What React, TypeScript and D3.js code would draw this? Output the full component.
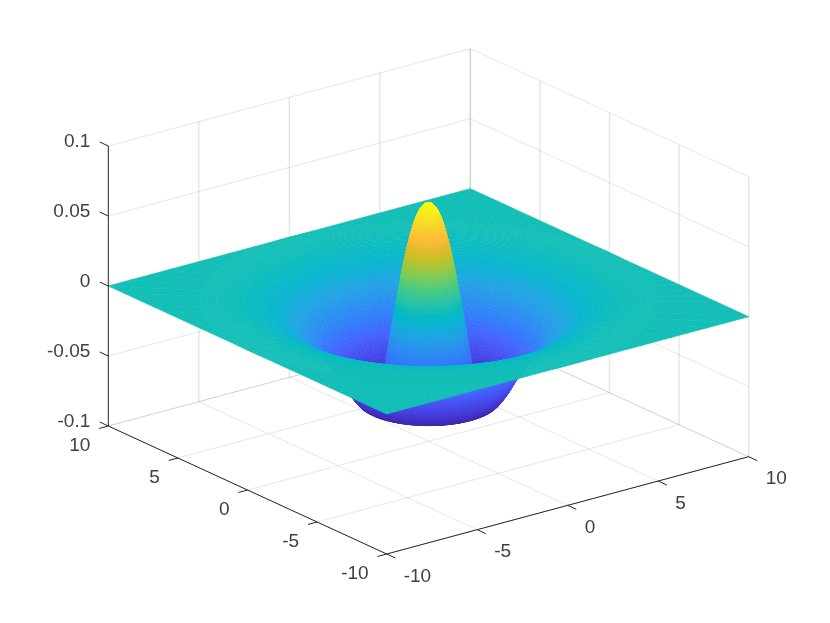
import React from "react";
import * as d3 from "d3";

const uTicks = [-10, -5, 0, 5, 10];
const vTicks = [-10, -5, 0, 5, 10];
const zTicks = [-0.1, -0.05, 0, 0.05, 0.1];
const zTickLabels = ["-0.1", "-0.05", "0", "0.05", "0.1"];

// radial profile, one value every 0.5 units of radius
const profileStep = 0.5;
const profileZ = [
  0.0703, 0.0618, 0.034, -0.0076, -0.052, -0.0675, -0.0715, -0.063, -0.05, -0.039,
  -0.029, -0.021, -0.015, -0.01, -0.0065, -0.004, -0.002, -0.0009, -0.0003, 0, 0,
];

// parula colormap: position in the colour range, then r, g, b
const parulaPos = [0, 4, 8, 12, 16, 20, 24, 28, 31, 34, 37, 41, 44, 47, 50, 53, 56, 59, 63];
const parula: [number, number, number][] = [
  [0.2422, 0.1504, 0.6603], [0.2706, 0.2147, 0.8364], [0.2813, 0.3006, 0.9414], [0.2699, 0.3892, 0.9906],
  [0.1963, 0.4847, 0.9892], [0.1687, 0.5703, 0.9359], [0.1248, 0.6459, 0.8883], [0.0297, 0.7082, 0.8163],
  [0.0433, 0.7411, 0.7394], [0.1717, 0.767, 0.6554], [0.247, 0.7918, 0.5567], [0.4456, 0.8024, 0.3909],
  [0.6174, 0.7876, 0.2612], [0.7738, 0.7598, 0.1646], [0.9035, 0.733, 0.1774], [0.9956, 0.7434, 0.2371],
  [0.9739, 0.8139, 0.1816], [0.9598, 0.8926, 0.1483], [0.9769, 0.9839, 0.0805],
];
const parulaCss = parula.map((c) => d3.rgb(c[0] * 255, c[1] * 255, c[2] * 255).formatRgb());
const colorScale = d3
  .scaleLinear<string>()
  .domain(parulaPos.map((p) => p / 63))
  .range(parulaCss)
  .interpolate(d3.interpolateRgb)
  .clamp(true);
const cNorm = d3.scaleLinear().domain([-0.0715, 0.0703]).range([0, 1]);

const uX = d3.scaleLinear().domain([-10, 10]).range([0, 362]);
const uY = d3.scaleLinear().domain([-10, 10]).range([0, -97.3]);
const vX = d3.scaleLinear().domain([-10, 10]).range([0, -278.4]);
const vY = d3.scaleLinear().domain([-10, 10]).range([0, -128]);
const zY = d3.scaleLinear().domain([-0.1, 0.1]).range([0, -280]);
const X0 = 386.7;
const Y0 = 554;
const px = (u: number, v: number) => X0 + uX(u) + vX(v);
const py = (u: number, v: number, z: number) => Y0 + uY(u) + vY(v) + zY(z);

function heightAt(r: number): number {
  const t = r / profileStep;
  const i = Math.floor(t);
  if (i >= profileZ.length - 1) return profileZ[profileZ.length - 1];
  const at = (k: number) => profileZ[Math.min(Math.abs(k), profileZ.length - 1)];
  const f = t - i;
  const p0 = at(i - 1), p1 = at(i), p2 = at(i + 1), p3 = at(i + 2);
  return 0.5 * (2 * p1 + (p2 - p0) * f + (2 * p0 - 5 * p1 + 4 * p2 - p3) * f * f + (3 * p1 - p0 - 3 * p2 + p3) * f * f * f);
}

const ringRadii = [...d3.range(0, 3, 0.025), ...d3.range(3, 10.001, 0.1)];
const SECTORS = 96;

function buildCells() {
  const cells: { d: string; c: string; depth: number }[] = [];
  const point = (ring: number, sector: number): [number, number] => {
    const a = (sector / SECTORS) * 2 * Math.PI;
    const c = Math.cos(a), s = Math.sin(a);
    const r = ring < ringRadii.length ? ringRadii[ring] : 10 / Math.max(Math.abs(c), Math.abs(s));
    return [r * c, r * s];
  };
  for (let ring = 0; ring < ringRadii.length; ring++) {
    for (let sec = 0; sec < SECTORS; sec++) {
      const quad = [point(ring, sec), point(ring + 1, sec), point(ring + 1, sec + 1), point(ring, sec + 1)];
      const pts = quad.map(([u, v]) => [u, v, heightAt(Math.hypot(u, v))]);
      const mean = d3.mean(pts, (p) => p[2]) as number;
      const d = "M" + pts.map((p) => `${px(p[0], p[1]).toFixed(2)},${py(p[0], p[1], p[2]).toFixed(2)}`).join("L") + "Z";
      const depth = (d3.mean(pts, (p) => p[0]) as number) * 13.92 + (d3.mean(pts, (p) => p[1]) as number) * 18.05;
      cells.push({ d, c: colorScale(cNorm(mean)), depth });
    }
  }
  cells.sort((a, b) => b.depth - a.depth);
  return cells;
}

const GRID = "rgba(38,38,38,0.11)";
const AXIS = "#262626";
const TEXT = "#404040";
const FONT = "'Liberation Sans', Arial, sans-serif";

function Seg({ a, b, stroke = GRID, w = 1 }: { a: [number, number]; b: [number, number]; stroke?: string; w?: number }) {
  return <line x1={a[0]} y1={a[1]} x2={b[0]} y2={b[1]} stroke={stroke} strokeWidth={w} />;
}

export default function App() {
  const cells = React.useMemo(buildCells, []);
  const zMin = -0.1, zMax = 0.1;
  const P = (u: number, v: number, z: number): [number, number] => [px(u, v), py(u, v, z)];
  const tickV: [number, number] = [-8.6, -4];
  const tickNegU: [number, number] = [-9.2, 2.5];
  const tickNegV: [number, number] = [8.6, 4];
  const add = (a: [number, number], d: [number, number]): [number, number] => [a[0] + d[0], a[1] + d[1]];
  return (
    <svg width={830} height={623} style={{ position: "absolute", left: 0, top: 0, display: "block", background: "#fff", filter: "blur(0.4px)" }}>
      <g fill="none">
        {uTicks.map((u) => <Seg key={"fu" + u} a={P(u, -10, zMin)} b={P(u, 10, zMin)} />)}
        {vTicks.map((v) => <Seg key={"fv" + v} a={P(-10, v, zMin)} b={P(10, v, zMin)} />)}
        {uTicks.map((u) => <Seg key={"wu" + u} a={P(u, 10, zMin)} b={P(u, 10, zMax)} w={u === -10 ? 0 : 1.5} />)}
        {zTicks.map((z) => <Seg key={"wz" + z} a={P(-10, 10, z)} b={P(10, 10, z)} />)}
        {vTicks.map((v) => <Seg key={"xv" + v} a={P(10, v, zMin)} b={P(10, v, zMax)} w={1.5} />)}
        {zTicks.map((z) => <Seg key={"xz" + z} a={P(10, -10, z)} b={P(10, 10, z)} />)}
      </g>
      <g strokeWidth={0.6}>
        {cells.map((c, i) => <path key={i} d={c.d} fill={c.c} stroke={c.c} />)}
      </g>
      <g fill="none">
        <Seg a={P(-10, 10, zMin)} b={P(-10, 10, zMax)} stroke={AXIS} />
        <Seg a={P(-10, 10, zMin)} b={P(-10, -10, zMin)} stroke={AXIS} />
        <Seg a={P(-10, -10, zMin)} b={P(10, -10, zMin)} stroke={AXIS} />
        {zTicks.map((z) => <Seg key={"tz" + z} a={P(-10, 10, z)} b={add(P(-10, 10, z), tickV)} stroke={AXIS} />)}
        {vTicks.map((v) => <Seg key={"tv" + v} a={P(-10, v, zMin)} b={add(P(-10, v, zMin), tickNegU)} stroke={AXIS} />)}
        {uTicks.map((u) => <Seg key={"tu" + u} a={P(u, -10, zMin)} b={add(P(u, -10, zMin), tickNegV)} stroke={AXIS} />)}
      </g>
      <g fontFamily={FONT} fontSize={19} fill={TEXT} dominantBaseline="central">
        {zTicks.map((z, i) => (
          <text key={"lz" + z} x={P(-10, 10, z)[0] - 18} y={P(-10, 10, z)[1] - 5.5} textAnchor="end">{zTickLabels[i]}</text>
        ))}
        {vTicks.map((v) => (
          <text key={"lv" + v} x={P(-10, v, zMin)[0] - 18} y={P(-10, v, zMin)[1] + 18} textAnchor="end">{v}</text>
        ))}
        {uTicks.map((u) => (
          <text key={"lu" + u} x={P(u, -10, zMin)[0] + 17} y={P(u, -10, zMin)[1] + 21} textAnchor="start">{u}</text>
        ))}
      </g>
    </svg>
  );
}
